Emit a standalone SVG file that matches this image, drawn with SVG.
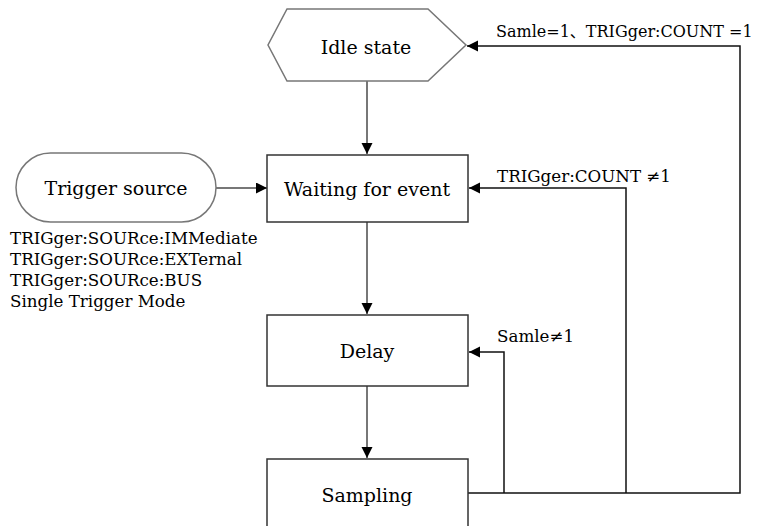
<svg xmlns="http://www.w3.org/2000/svg" width="759" height="526" viewBox="0 0 759 526">
<style>
  .node { fill: #fff; stroke: #333; stroke-width: 1.5; }
  .soft { fill: #fff; stroke: #777; stroke-width: 1.5; }
  .t { font-family: "DejaVu Serif", "Noto Sans CJK JP", serif; font-size: 19px; fill: #000; }
  .lbl { font-family: "DejaVu Serif", "Noto Sans CJK JP", serif; font-size: 16.7px; fill: #000; }
  .flow { fill: none; stroke: #777; stroke-width: 2; }
  .back { fill: none; stroke: #111; stroke-width: 1.5; }
</style>
<defs>
  <marker id="arr" markerUnits="userSpaceOnUse" markerWidth="12" markerHeight="12" refX="11" refY="5.5" orient="auto">
    <path d="M0,0 L11,5.5 L0,11 z" fill="#000"/>
  </marker>
</defs>
<rect width="759" height="526" fill="#fff"/>

<g id="connectors">
  <line class="flow" x1="367" y1="81" x2="367" y2="154" marker-end="url(#arr)"/>
  <line class="flow" x1="216" y1="188" x2="267" y2="188" marker-end="url(#arr)"/>
  <line class="flow" x1="367" y1="222" x2="367" y2="314" marker-end="url(#arr)"/>
  <line class="flow" x1="367" y1="386" x2="367" y2="458" marker-end="url(#arr)"/>
  <polyline class="back" points="468,493 740,493 740,46 467,46" marker-end="url(#arr)"/>
  <polyline class="back" points="626,493 626,188 469,188" marker-end="url(#arr)"/>
  <polyline class="back" points="504,493 504,352 469,352" marker-end="url(#arr)"/>
  <text class="lbl" x="496" y="37" style="font-size:16px">Samle=1、TRIGger:COUNT =1</text>
  <text class="lbl" x="497" y="182">TRIGger:COUNT ≠1</text>
  <text class="lbl" x="497" y="342">Samle≠1</text>
</g>

<g id="idle">
  <polygon class="soft" points="287,9 428,9 466,45 428,81 287,81 268,45"/>
  <text class="t" x="366" y="54" text-anchor="middle">Idle state</text>
</g>

<g id="trigger">
  <rect class="soft" x="16" y="153" width="200" height="69" rx="34.5" ry="34.5"/>
  <text class="t" x="116" y="195" text-anchor="middle">Trigger source</text>
  <text class="lbl" x="10" y="244">TRIGger:SOURce:IMMediate</text>
  <text class="lbl" x="10" y="265">TRIGger:SOURce:EXTernal</text>
  <text class="lbl" x="10" y="286">TRIGger:SOURce:BUS</text>
  <text class="lbl" x="10" y="307">Single Trigger Mode</text>
</g>

<g id="waiting">
  <rect class="node" x="267" y="155" width="201" height="67"/>
  <text class="t" x="367" y="196" text-anchor="middle">Waiting for event</text>
</g>

<g id="delay">
  <rect class="node" x="267" y="315" width="201" height="71"/>
  <text class="t" x="367" y="358" text-anchor="middle">Delay</text>
</g>

<g id="sampling">
  <rect class="node" x="267" y="459" width="201" height="80"/>
  <text class="t" x="367" y="502" text-anchor="middle">Sampling</text>
</g>
</svg>
